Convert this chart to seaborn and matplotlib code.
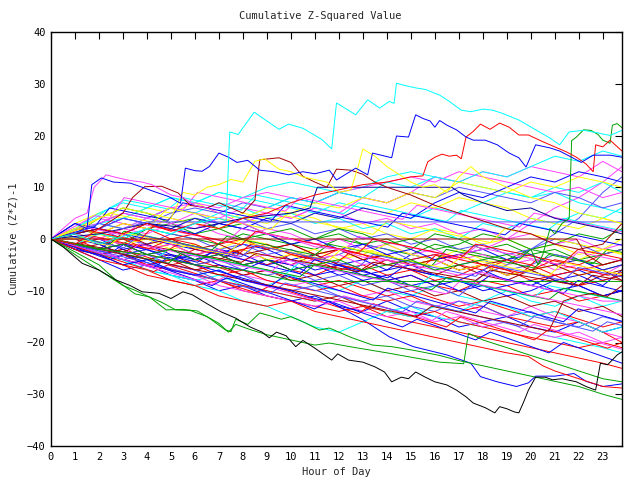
import matplotlib
matplotlib.use("Agg")
import matplotlib.pyplot as plt
import numpy as np
import pandas as pd
import seaborn as sns

# ---------------- data ----------------
HOURS = [0, 1, 2, 3, 4, 5, 6, 7, 8, 9, 10, 11, 12, 13, 14, 15, 16, 17, 18, 19, 20, 21, 22, 23, 23.8]
T_END = 23.8  # last sample time (hours)

# background series, one value per hour (HOURS grid)
L01 = [0, -1.5, -3, -2, -3.5, -5, -4, -5.5, -7, -6, -7.5, -9, -8, -9.5, -11, -10, -11.5, -13, -12, -13.5, -15, -14, -15.5, -17, -16]
L02 = [0, 1, 0, -1, 2, 1, 0, -1, 1, 0, -1, -2, 0, -1, -2, -3, -1, -2, -3, -4, -2, -3, -4, -5, -4]
L03 = [0, -1, -2, 1, 0, -1, -2, -3, -1, -2, -4, -3, -5, -4, -6, -3, -4, -6, -5, -7, -6, -8, -7, -9, -6]
L04 = [0, 2, 4, 3, 2, 4, 3, 1, 0, 2, 1, -1, 0, -2, -1, -3, -2, -4, -3, -5, -4, -6, -5, -7, -5]
L05 = [0, -2, -3, -5, -4, -6, -7, -6, -8, -9, -7, -9, -10, -8, -10, -11, -9, -11, -12, -10, -12, -13, -11, -13, -12]
L06 = [0, 3, 5, 4, 6, 5, 7, 5, 4, 3, 5, 4, 2, 3, 1, 0, 2, 1, -1, 0, -2, -1, -3, -2, 0]
L07 = [0, -1, -3, -2, -4, -3, -5, -4, -2, -4, -5, -3, -5, -6, -4, -6, -7, -5, -7, -8, -6, -8, -9, -7, -6]
L08 = [0, 1, 2, 0, -1, 1, 0, -2, -1, -3, -2, -4, -3, -1, -2, -4, -3, -5, -4, -6, -5, -3, -4, -6, -5]
L09 = [0, -2, -4, -6, -5, -7, -8, -10, -9, -11, -12, -11, -13, -14, -12, -14, -15, -17, -16, -15, -17, -18, -16, -18, -17]
L10 = [0, 2, 1, 3, 2, 0, 1, -1, 0, -2, -1, -3, -2, -4, -3, -5, -4, -6, -5, -7, -6, -4, -5, -3, -2]
L11 = [0, 0, -2, -1, -3, -4, -2, -3, -5, -4, -6, -7, -5, -6, -8, -7, -9, -10, -8, -9, -11, -10, -12, -11, -10]
L12 = [0, 1, 4, 6, 5, 3, 4, 2, 3, 1, 2, 0, 1, -1, 0, -2, 1, 0, -2, -1, -3, -2, -4, -3, -2]
L13 = [0, -1, 0, -2, -1, -3, -4, -2, -3, -5, -4, -6, -5, -7, -6, -5, -7, -8, -6, -8, -9, -7, -6, -8, -7]
L14 = [0, -1, -2, -4, -3, -5, -6, -5, -7, -8, -9, -8, -10, -11, -10, -12, -13, -12, -14, -15, -13, -15, -16, -18, -19]
L15 = [0, 2, 3, 2, 4, 6, 5, 7, 6, 4, 5, 3, 4, 2, 3, 1, 2, 0, 3, 2, 4, 3, 5, 4, 6]
L16 = [0, -1, 1, 0, -2, -1, -3, -2, 0, -1, -3, -2, -4, -3, -1, -3, -4, -2, -4, -5, -3, -5, -4, -2, -3]
L17 = [0, -2, -1, -3, -5, -4, -6, -5, -7, -6, -8, -7, -9, -8, -10, -9, -11, -10, -12, -11, -13, -12, -14, -13, -15]
L18 = [0, 1, 3, 5, 4, 6, 5, 3, 4, 2, 3, 1, 2, 0, 1, -1, 0, -2, -1, -3, -2, 0, -1, -3, -2]
L19 = [0, 0, -1, -3, -2, -4, -3, -5, -6, -4, -5, -7, -6, -8, -7, -9, -8, -10, -9, -11, -10, -8, -9, -11, -10]
L20 = [0, 1, -1, 0, -2, -1, -3, -2, -4, -5, -3, -4, -6, -5, -7, -6, -8, -7, -5, -6, -8, -7, -9, -8, -7]
L21 = [0, -1, -2, -3, -5, -4, -5, -7, -6, -8, -9, -10, -9, -11, -12, -11, -13, -14, -13, -15, -16, -17, -16, -18, -20]
L22 = [0, 2, 1, 0, 2, 3, 1, 2, 0, 1, -1, 0, 2, 1, -1, 0, -2, -1, 1, 0, -2, -1, 1, 0, 2]
L23 = [0, -1, -2, -1, -3, -2, -4, -3, -5, -4, -6, -5, -7, -6, -8, -7, -9, -8, -10, -9, -8, -10, -9, -11, -10]
L24 = [0, 1, 0, 2, 4, 3, 5, 4, 6, 5, 4, 6, 5, 3, 4, 2, 3, 1, 2, 0, 1, -1, 0, -2, -1]
L25 = [0, -2, -3, -4, -6, -7, -8, -7, -9, -10, -11, -12, -11, -13, -14, -13, -15, -16, -17, -16, -18, -19, -20, -21, -22]
L26 = [0, 0, 1, -1, 0, -2, -1, -3, -2, -4, -3, -5, -4, -2, -3, -5, -4, -6, -5, -7, -6, -5, -7, -6, -5]
L27 = [0, 1, 2, 1, -1, 0, -2, -1, -3, -2, -1, -3, -2, -4, -3, -5, -4, -3, -5, -4, -6, -5, -7, -6, -8]
L28 = [0, -1, -3, -4, -3, -5, -6, -8, -7, -9, -10, -9, -11, -12, -11, -13, -14, -12, -13, -15, -14, -16, -17, -15, -16]
L29 = [0, 3, 2, 4, 3, 2, 1, 3, 2, 1, -1, 0, -2, -1, -3, -2, -4, -3, -2, -4, -3, -5, -4, -6, -5]
L30 = [0, -1, 0, -1, -2, 0, -1, -3, -2, -1, -3, -4, -2, -3, -5, -4, -3, -5, -6, -4, -5, -7, -6, -5, -4]
L31 = [0, 1, 0, -1, -2, -1, -3, -2, -4, -3, -5, -4, -3, -5, -4, -6, -5, -3, -2, 0, 3, 6, 8, 11, 14]
L32 = [0, -1, -2, -3, -2, -4, -5, -4, -6, -7, -6, -8, -7, -9, -8, -10, -9, -11, -7, -5, -2, 1, 4, 9, 12]
L33 = [0, 2, 5, 7, 6, 8, 7, 9, 8, 7, 6, 5, 7, 6, 5, 4, 6, 5, 7, 9, 8, 10, 9, 11, 9]
L34 = [0, 1, 3, 4, 6, 8, 7, 9, 8, 10, 11, 10, 9, 10, 12, 13, 12, 11, 10, 9, 8, 9, 7, 6, 5]
L35 = [0, 2, 3, 5, 4, 6, 7, 6, 8, 9, 8, 7, 9, 10, 11, 12, 11, 13, 12, 11, 10, 9, 10, 8, 9]
L36 = [0, 1, 2, 4, 3, 5, 6, 5, 7, 6, 8, 7, 9, 8, 7, 9, 8, 10, 9, 8, 7, 9, 8, 6, 7]
L37 = [0, 1, 0, 2, 3, 2, 4, 3, 5, 4, 3, 5, 4, 6, 5, 7, 6, 8, 7, 6, 4, 3, 2, 4, 3]
L38 = [0, -1, -3, -4, -5, -6, -7, -8, -9, -10, -11, -12, -11, -13, -14, -15, -14, -16, -17, -18, -19, -20, -21, -20, -21]
L39 = [0, -2, -3, -5, -6, -8, -9, -8, -10, -11, -12, -13, -14, -13, -15, -16, -17, -18, -19, -20, -21, -22, -23, -24, -25]
L40 = [0, -1, -2, -4, -5, -6, -7, -9, -10, -11, -12, -13, -12, -14, -15, -14, -16, -15, -17, -16, -18, -19, -18, -20, -19]
L41 = [0, -1, -3, -4, -6, -7, -9, -10, -12, -13, -15, -17, -18, -16, -14, -15, -13, -14, -12, -13, -15, -14, -16, -18, -17]
R01 = [0, 1, 0, 2, 1, 3, 2, 4, 3, 5, 4, 6, 5, 8, 7, 9, 12, 11, 13, 12, 14, 13, 12, 15, 13]
R02 = [0, -1, 1, 0, 2, 1, 3, 5, 4, 6, 8, 7, 9, 8, 11, 10, 12, 11, 13, 12, 14, 16, 15, 17, 16]
R03 = [0, 2, 1, 3, 2, 4, 3, 2, 4, 6, 5, 7, 6, 8, 7, 9, 8, 11, 10, 9, 11, 10, 12, 11, 10]
R04 = [0, 1, 2, 1, 3, 2, 4, 3, 2, 4, 3, 5, 4, 6, 5, 4, 7, 9, 8, 10, 12, 11, 13, 12, 11]

# finer background series, evenly spaced samples from 0 to T_END
N01 = [0, -0.6, -1.2, 0.5, -0.1, -0.7, -1.3, -1.9, -2.5, -0.8, -1.4, -2, -2.6, -3.2, -1, -1.6, -2.2, -2.8, -3.4, -4, -4.6, -2.5, -3.1, -3.7, -4.3, -4.9, -5.5, -3, -3.6, -4.2, -4.8, -5.4, -6, -6.6, -4, -4.6, -5.2, -5.8, -6.4, -7, -6.5]
N02 = [0, -0.7, -1.4, -2.1, -2.8, -1, -1.7, -2.4, -3.1, -3.8, -4.5, -2.5, -3.2, -3.9, -4.6, -5.3, -6, -6.7, -4, -4.7, -5.4, -6.1, -6.8, -7.5, -5.5, -6.2, -6.9, -7.6, -8.3, -9, -7, -7.7, -8.4, -9.1, -9.8, -10.5, -8, -8.7, -9.4, -10.1]
N03 = [0, 0.8, 0.2, -0.4, -1, 1.5, 0.9, 0.3, -0.3, -0.9, -1.5, -2.1, 0.5, -0.1, -0.7, -1.3, -1.9, -2.5, -3.1, -1, -1.6, -2.2, -2.8, -3.4, -4, -4.6, -5.2, -2, -2.6, -3.2, -3.8, -4.4, -5, -5.6, -3, -3.6, -4.2, -4.8, -2, -2.6]
N04 = [0, 1, 2.5, 1.9, 1.3, 0.7, 3, 2.4, 1.8, 1.2, 0.6, 0, -0.6, 2, 1.4, 0.8, 0.2, -0.4, -1, -1.6, -2.2, 0.5, -0.1, -0.7, -1.3, -1.9, -2.5, -3.1, -3.7, -1.5, -2.1, -2.7, -3.3, -3.9, -4.5, -5.1, -2.5, -3.1, -3.7, -4.3]
N05 = [0, -0.6, -1.2, -1.8, -2.4, -3, -3.6, -4.2, -2, -2.6, -3.2, -3.8, -4.4, -5, -5.6, -6.2, -6.8, -4.5, -5.1, -5.7, -6.3, -6.9, -7.5, -8.1, -8.7, -9.3, -7, -7.6, -8.2, -8.8, -9.4, -10, -10.6, -11.2, -9, -9.6, -10.2, -10.8, -11.4, -12]
N06 = [0, 0.5, -0.1, -0.7, -1.3, 1.2, 0.6, 0, -0.6, -1.2, -1.8, -2.4, -3, -0.5, -1.1, -1.7, -2.3, -2.9, -3.5, -4.1, -1.5, -2.1, -2.7, -3.3, -3.9, -4.5, -5.1, -5.7, -3.5, -4.1, -4.7, -5.3, -5.9, -6.5, -7.1, -4.5, -5.1, -5.7, -6.3, -6.9]
N07 = [0, -0.5, -1, -1.5, -2, -2.5, -1, -1.5, -2, -2.5, -3, -3.5, -4, -4.5, -2.8, -3.3, -3.8, -4.3, -4.8, -5.3, -5.8, -6.3, -4.5, -5, -5.5, -6, -6.5, -7, -7.5, -8, -6, -6.5, -7, -7.5, -8, -8.5, -9, -7, -7.5, -8]
N08 = [0, 0.7, 0.1, -0.5, -1.1, -1.7, 0.8, 0.2, -0.4, -1, -1.6, -2.2, -2.8, -3.4, -1.2, -1.8, -2.4, -3, -3.6, -4.2, -4.8, -5.4, -3, -3.6, -4.2, -4.8, -5.4, -6, -6.6, -7.2, -5, -5.6, -6.2, -6.8, -7.4, -8, -5.5, -6.1, -6.7, -7.3]
N09 = [0, -0.8, -1.6, -2.4, -3.2, -4, -4.8, -5.6, -3.5, -4.3, -5.1, -5.9, -6.7, -7.5, -8.3, -9.1, -7, -7.8, -8.6, -9.4, -10.2, -11, -11.8, -9.5, -10.3, -11.1, -11.9, -12.7, -13.5, -14.3, -12, -12.8, -13.6, -14.4, -15.2, -16, -13.5, -14.3, -15.1, -15.9]
N10 = [0, 0.9, 2, 1.4, 0.8, 0.2, -0.4, 2.5, 1.9, 1.3, 0.7, 0.1, -0.5, -1.1, 1.5, 0.9, 0.3, -0.3, -0.9, -1.5, -2.1, -2.7, 0, -0.6, -1.2, -1.8, -2.4, -3, -3.6, -1, -1.6, -2.2, -2.8, -3.4, -4, -4.6, -2, -2.6, -3.2, -3.8]
N11 = [0, -0.5, -1.1, -1.7, -2.3, -2.9, -3.5, -4.1, -4.7, -2.5, -3.1, -3.7, -4.3, -4.9, -5.5, -6.1, -6.7, -7.3, -5, -5.6, -6.2, -6.8, -7.4, -8, -8.6, -9.2, -9.8, -7.5, -8.1, -8.7, -9.3, -9.9, -10.5, -11.1, -11.7, -9.5, -10.1, -10.7, -11.3, -11.9]
N12 = [0, -0.6, -1.2, -1.8, -2.4, -3, -1, -1.6, -2.2, -2.8, -3.4, -4, -4.6, -5.2, -5.8, -6.4, -4, -4.6, -5.2, -5.8, -6.4, -7, -7.6, -8.2, -8.8, -9.4, -10, -10.6, -8, -8.6, -9.2, -9.8, -10.4, -11, -11.6, -12.2, -12.8, -13.4, -14, -14.6]
U1 = [0, 1, 2.5, 4, 6, 7.5, 7, 6.4, 5.8, 8, 7.4, 6.8, 6.2, 5.6, 8.5, 7.9, 7.3, 6.7, 6.1, 5.5, 4.9, 7, 6.4, 5.8, 5.2, 4.6, 4, 3.4, 5.5, 4.9, 4.3, 3.7, 3.1, 2.5, 1.9, 4, 3.4, 2.8, 2.2, 1.6]
U2 = [0, 0.8, 1.6, 2.4, 6, 5.4, 4.8, 4.2, 3.6, 7, 6.4, 5.8, 5.2, 4.6, 4, 3.4, 6.5, 5.9, 5.3, 4.7, 4.1, 3.5, 2.9, 2.3, 5, 4.4, 3.8, 3.2, 2.6, 2, 1.4, 0.8, 3, 2.4, 1.8, 1.2, 0.6, 0, -0.6, -1.2]
U3 = [0, 1.5, 3, 4.5, 4, 8, 7.4, 6.8, 6.2, 5.6, 9, 8.4, 7.8, 7.2, 6.6, 6, 5.4, 8, 7.4, 6.8, 6.2, 5.6, 5, 4.4, 3.8, 6.5, 5.9, 5.3, 4.7, 4.1, 3.5, 2.9, 2.3, 5, 4.4, 3.8, 3.2, 2.6, 2, 1.4]
U4 = [0, 1, 2, 3.5, 5, 4.4, 3.8, 3.2, 6, 5.4, 4.8, 4.2, 3.6, 3, 2.4, 1.8, 4.5, 3.9, 3.3, 2.7, 2.1, 1.5, 0.9, 3.5, 2.9, 2.3, 1.7, 1.1, 0.5, -0.1, -0.7, 2, 1.4, 0.8, 0.2, -0.4, -1, -1.6, -2.2, -2.8]
D1 = [0, -0.9, -1.8, -2.7, -3.6, -4.5, -5.4, -6.3, -5, -5.9, -6.8, -7.7, -8.6, -9.5, -10.4, -9, -9.9, -10.8, -11.7, -12.6, -13.5, -14.4, -12.5, -13.4, -14.3, -15.2, -16.1, -17, -15, -15.9, -16.8, -17.7, -18.6, -19.5, -17.5, -18.4, -19.3, -20.2, -21.1, -20]
D2 = [0, -1, -2, -3, -4, -3, -4, -5, -6, -7, -8, -9, -7.5, -8.5, -9.5, -10.5, -11.5, -12.5, -13.5, -12, -13, -14, -15, -16, -17, -15.5, -16.5, -17.5, -18.5, -19.5, -18, -19, -20, -21, -22, -20, -21, -22, -23, -24]
D3 = [0, -0.8, -1.6, -2.4, -3.2, -4, -4.8, -5.6, -6.4, -7.2, -8, -8.8, -7, -7.8, -8.6, -9.4, -10.2, -11, -11.8, -12.6, -11, -11.8, -12.6, -13.4, -14.2, -15, -15.8, -14, -14.8, -15.6, -16.4, -17.2, -18, -16.5, -17.3, -18.1, -18.9, -19.7, -20.5, -21.3]
D4 = [0, -0.7, -1.4, -2.1, -2.8, -3.5, -4.2, -4.9, -5.6, -6.3, -7, -7.7, -8.4, -9.1, -9.8, -10.5, -8.5, -9.2, -9.9, -10.6, -11.3, -12, -12.7, -13.4, -14.1, -12, -12.7, -13.4, -14.1, -14.8, -15.5, -16.2, -16.9, -15, -15.7, -16.4, -17.1, -17.8, -16, -16.7]
D5 = [0, -0.6, -1.2, -1.8, -2.4, -3, -3.6, -4.2, -4.8, -5.4, -6, -6.6, -7.2, -7.8, -8.4, -9, -9.6, -10.2, -10.8, -11.4, -12, -12.6, -13.2, -13.8, -14.4, -15, -13, -13.6, -14.2, -14.8, -15.4, -16, -16.6, -17.2, -17.8, -12, -11, -10.5, -11.1, -9]

# traced prominent series (hour, value)
CYAN_TOP_X = [0, 1, 2, 3, 4, 5, 6, 7, 7.3, 7.45, 7.8, 8.47, 9.5, 9.9, 10.5, 11.3, 11.7, 11.9, 12.7, 13.2, 13.7, 14.1, 14.3, 14.4, 14.8, 15.2, 15.6, 16.2, 16.6, 17.1, 17.5, 18.0, 18.4, 18.8, 19.5, 20.2, 20.8, 21.2, 21.6, 22.2, 22.8, 23.3, 23.8]
CYAN_TOP_Y = [0, 1, -1, 0.5, 2, 1, 3, 4, 3.5, 20.7, 20.2, 24.5, 21.2, 22.2, 21.4, 19.2, 17.4, 26.3, 24, 26.9, 25.3, 26.6, 26.2, 30.1, 29.6, 29.2, 28.9, 27.8, 26.6, 24.9, 24.6, 25.1, 24.9, 24.3, 23, 21.1, 19.5, 18.2, 20.7, 21, 20.5, 20, 21]

BLUE_TOP_X = [0, 0.5, 1, 1.5, 1.7, 2.1, 2.6, 3.3, 3.8, 4.4, 4.9, 5.4, 5.6, 6.0, 6.3, 6.6, 7.0, 7.4, 7.75, 8.2, 8.7, 9.3, 9.9, 10.5, 11.0, 11.6, 11.9, 12.7, 13.2, 13.4, 14.2, 14.4, 14.9, 15.2, 15.5, 15.8, 16.0, 16.2, 16.5, 16.9, 17.3, 17.6, 18.1, 18.6, 19.1, 19.5, 19.8, 20.2, 20.8, 21.2, 21.7, 22.1, 22.6, 23.3, 23.8]
BLUE_TOP_Y = [0, 1.5, 3, 2, 10.5, 11.8, 11, 10.8, 10, 9, 8.2, 6.9, 13.7, 13.2, 13.1, 14, 16.6, 15.8, 14.8, 15.2, 13.3, 13.0, 12.4, 13.0, 12.6, 13.3, 11.4, 13.7, 12.4, 16.6, 15.7, 19.9, 19.7, 24, 23.3, 22.8, 21.6, 22.9, 22, 21.1, 19.7, 19.1, 19.1, 18.2, 16.6, 15.7, 13.9, 18.2, 17.6, 17, 15.8, 14.8, 16.2, 16.2, 15.8]

RED_TOP_X = [0, 1, 2, 3, 4, 5, 6, 7, 8, 9, 10, 11, 12, 13, 14, 15, 15.5, 15.7, 16.0, 16.3, 16.6, 16.9, 17.1, 17.3, 17.6, 17.9, 18.3, 18.7, 19.1, 19.5, 19.9, 20.5, 21.0, 21.5, 21.9, 22.3, 22.6, 22.7, 23.0, 23.3, 23.8]
RED_TOP_Y = [0, -1, 2, 1, 3, 1.5, 3, 2, 4, 5, 7, 8.5, 9.5, 10.5, 11, 12, 12.2, 14.9, 15.8, 16.4, 16, 16.2, 15.5, 19.7, 20.8, 22.2, 21.2, 22.4, 21.6, 20.1, 20.1, 18.8, 17.8, 16.8, 15.8, 14.5, 13, 18.2, 17.8, 19.1, 17]

GREEN_RIGHT_X = [0, 1, 2, 3, 4, 5, 6, 7, 8, 9, 10, 11, 12, 13, 14, 15, 16, 17, 18, 19, 19.5, 20.0, 20.3, 20.5, 20.8, 21.0, 21.3, 21.6, 21.7, 21.9, 22.2, 22.5, 22.8, 23.0, 23.3, 23.4, 23.6, 23.8]
GREEN_RIGHT_Y = [0, -1, -2, -1, -3, -2, -4, -3, -5, -4, -6, -5, -4, -6, -5, -4, -6, -5, -4, -3, -4, -2, -5, -3, 2, 1, 3, 4, 19, 19.7, 21.1, 21, 20.2, 19.1, 18.5, 22, 22.3, 21.5]

BLACK_X = [0, 0.5, 1.3, 2.0, 2.7, 3.3, 3.8, 4.5, 5.0, 5.5, 5.9, 6.5, 7.1, 7.7, 8.3, 8.8, 9.1, 9.4, 9.8, 10.2, 10.5, 11.0, 11.7, 11.95, 12.4, 13.0, 13.5, 13.9, 14.2, 14.6, 14.9, 15.2, 15.6, 16.0, 16.5, 16.9, 17.3, 17.6, 18.1, 18.5, 18.7, 19.0, 19.3, 19.5, 19.7, 19.9, 20.2, 20.6, 20.9, 21.3, 21.9, 22.3, 22.7, 22.9, 23.2, 23.6, 23.8]
BLACK_Y = [0, -1.5, -4.7, -6, -7.9, -9, -10.2, -10.5, -11.5, -10.2, -10.8, -12.5, -14.1, -15.3, -17, -18, -19.1, -18, -18.7, -20.8, -19.6, -21.1, -23.4, -22.2, -23.4, -23.8, -24.7, -25.7, -27.6, -26.7, -27, -25.7, -26.7, -27.6, -28.2, -29.2, -30.5, -31.7, -32.6, -33.6, -32.4, -32.8, -33.4, -33.6, -31.5, -29.2, -26.7, -26.7, -27.2, -27, -27.6, -28.5, -29.2, -24, -24.3, -22.4, -21.8]

GREEN_A_X = [0, 1, 2, 3, 3.5, 4, 4.6, 5.2, 5.8, 6.5, 7.0, 7.3, 7.5, 7.7, 8.2, 8.7, 9.1, 9.6, 10, 10.5, 11.2, 11.6, 12.5, 13.4, 14.2, 15.1, 16.2, 17, 18, 19, 20, 21, 22, 23, 23.8]
GREEN_A_Y = [0, -3, -6, -9, -9.9, -11, -12.2, -13.7, -13.8, -15, -16.3, -17.6, -17.9, -15.5, -16.5, -14.3, -14.8, -15.5, -15, -16, -17.6, -17.2, -19, -20.5, -20.8, -21.5, -22.5, -23.5, -24.5, -25.5, -26.5, -27.5, -28.5, -30, -31]

GREEN_B_X = [0, 1, 2, 2.7, 3.5, 4.1, 4.8, 5.5, 6.1, 6.6, 7.1, 7.4, 7.7, 8.3, 9, 10, 11, 11.6, 12.7, 14, 15.2, 16.2, 17.2, 17.4, 18, 19, 20, 21, 22, 23, 23.8]
GREEN_B_Y = [0, -2.5, -5, -7.9, -10.6, -11.2, -13.7, -13.6, -13.9, -15.3, -17, -18, -16.5, -17.5, -18.5, -19.5, -20.5, -20.1, -21, -22, -23, -23.8, -24.1, -18.2, -19.5, -21, -22.5, -24, -25.5, -27, -27.6]

BLUE_LOW_X = [0, 1, 2, 3, 4, 5, 6, 7, 8, 9, 10, 11, 11.6, 13, 14.1, 15.1, 16.5, 17.5, 17.9, 18.6, 19.4, 19.9, 20.2, 21.0, 21.8, 22.3, 23, 23.8]
BLUE_LOW_Y = [0, -2, -3, -5, -4, -6, -7, -6, -8, -9, -10, -11.5, -12.1, -15.6, -18.9, -20.8, -22.4, -24, -26.6, -27.6, -28.5, -27.8, -26.5, -26.5, -26, -27.5, -28.5, -28]

RED_LOW_X = [0, 1, 2, 3, 4, 5, 6, 7, 8, 9, 10, 11, 12, 13, 14, 15, 16, 17, 18, 19, 19.9, 20.5, 21, 22, 23, 23.8]
RED_LOW_Y = [0, -2, -4, -5, -7, -8, -9, -11, -12, -13, -12, -14, -15, -16, -17, -18, -19, -20, -21, -22, -22.7, -24.5, -25.5, -27, -28.5, -28.8]

DARKRED_X = [0, 2, 3, 3.4, 3.9, 4.6, 5.3, 5.8, 6.5, 7, 7.5, 8, 8.5, 8.7, 9.5, 10, 10.5, 11, 11.5, 11.9, 12.5, 13, 13.5, 14, 15, 16, 17, 18, 19, 20, 21, 22, 23, 23.8]
DARKRED_Y = [0, 2, 5, 8, 10.1, 10.2, 8.9, 6.5, 6, 7, 6, 5, 7.5, 15.3, 15.7, 14.8, 12.1, 11, 10, 13.5, 13.3, 12.5, 11, 10, 8.5, 6.5, 5, 3.5, 2, 1, -1, -2, -1, 3]

YELLOW_X = [0, 1, 2, 3, 4, 5, 5.5, 6, 6.5, 7, 7.5, 8, 8.5, 8.9, 9.5, 10, 10.5, 11, 11.5, 12, 12.5, 12.8, 13.0, 13.5, 14, 14.5, 15, 15.5, 16, 16.5, 17, 17.5, 18, 18.5, 19, 19.5, 20, 21, 22, 23, 23.8]
YELLOW_Y = [0, 2, 4, 6, 5, 4, 9, 8.5, 10, 10.5, 11.5, 11, 15, 15.5, 13.5, 13, 12, 11.5, 11, 9, 9.5, 14, 17.4, 16, 14, 12.5, 11, 10, 10.5, 9, 12, 14, 12, 11, 10, 9, 8, 7, 5, 4, 3]

MAGENTA_X = [0, 0.5, 1, 1.5, 1.8, 2.3, 2.8, 3.3, 3.8, 4.2, 4.6, 5, 5.5, 6, 6.5, 7, 7.5, 8, 9, 10, 11, 12, 13, 14, 15, 16, 17, 18, 19, 20, 21, 22, 23, 23.8]
MAGENTA_Y = [0, 2, 4, 5, 10, 12.4, 11.8, 11.3, 11.0, 10.5, 9.5, 8.5, 8.0, 6.5, 6, 5, 4, 3, 1, 0, -1.5, -2, -3.5, -4, -5, -6, -7, -6.5, -8, -9, -10, -11, -12, -12]

# flat (gap-filled) series
NAVY_X = [0, 2, 4, 6, 8, 10, 10.8, 11.1, 16.7, 17.2, 18, 19, 20, 21, 22, 23, 23.8]
NAVY_Y = [0, 1, 3, 2, 4, 5, 6, 10, 10, 8.5, 7, 5.5, 6, 4, 3, 2, 1]
LBLUE_FLAT_X = [0, 1, 2, 3, 4, 23.8]
LBLUE_FLAT_Y = [0, 1, 3, 2, 3.3, 3.3]
DARKRED_FLAT_X = [0, 21.9, 22.3, 23, 23.8]
DARKRED_FLAT_Y = [0, 0, -3, -5, -4]
GREEN_FLAT_X = [0, 2, 4, 6, 8, 10, 10.5, 23.8]
GREEN_FLAT_Y = [0, -2, -3, -5, -6, -8, -8.2, -8.2]

# ---------------- colours / assembly ----------------
RED, GREEN, BLUE, MAG, CYAN = "#ff0000", "#00a000", "#0000ff", "#ff40ff", "#00ffff"
YEL, DRED, LBLUE, NAVY, BLACK = "#ffff00", "#a00000", "#5050ff", "#000090", "#000000"
cycle = [RED, GREEN, BLUE, MAG, CYAN, YEL, DRED, LBLUE, BLUE, RED]

background = [L01, L02, L03, L04, L05, L06, L07, L08, L09, L10, L11, L12, L13, L14,
              L15, L16, L17, L18, L19, L20, L21, L22, L23, L24, L25, L26, L27, L28,
              L29, L30, L31, L32, L33, L34, L35, L36, L37, L38, L39, L40, L41,
              R01, R02, R03, R04]
bg_colors = [cycle[i % len(cycle)] for i in range(len(background))]
bg_colors[30], bg_colors[31], bg_colors[32] = MAG, LBLUE, CYAN
bg_colors[33], bg_colors[34], bg_colors[35], bg_colors[36] = CYAN, MAG, LBLUE, YEL
bg_colors[37], bg_colors[38], bg_colors[39], bg_colors[40] = RED, RED, MAG, CYAN
bg_colors[41], bg_colors[42], bg_colors[43], bg_colors[44] = MAG, CYAN, YEL, BLUE

fine = [N01, N02, N03, N04, N05, N06, N07, N08, N09, N10, N11, N12,
        U1, U2, U3, U4, D1, D2, D3, D4, D5]
fine_colors = [RED, BLUE, GREEN, MAG, CYAN, YEL, DRED, LBLUE, BLUE, RED, GREEN, MAG,
               CYAN, BLUE, MAG, YEL, RED, BLUE, MAG, LBLUE, DRED]

series = []
for i, ys in enumerate(background):
    series.append((f"b{i}", HOURS, ys, bg_colors[i]))
for i, ys in enumerate(fine):
    series.append((f"n{i}", list(np.linspace(0, T_END, len(ys))), ys, fine_colors[i]))
series += [
    ("navy", NAVY_X, NAVY_Y, NAVY),
    ("lblue_flat", LBLUE_FLAT_X, LBLUE_FLAT_Y, LBLUE),
    ("dred_flat", DARKRED_FLAT_X, DARKRED_FLAT_Y, DRED),
    ("green_flat", GREEN_FLAT_X, GREEN_FLAT_Y, GREEN),
    ("dred", DARKRED_X, DARKRED_Y, DRED),
    ("yellow", YELLOW_X, YELLOW_Y, YEL),
    ("magenta", MAGENTA_X, MAGENTA_Y, MAG),
    ("blue_low", BLUE_LOW_X, BLUE_LOW_Y, BLUE),
    ("red_low", RED_LOW_X, RED_LOW_Y, RED),
    ("green_a", GREEN_A_X, GREEN_A_Y, GREEN),
    ("green_b", GREEN_B_X, GREEN_B_Y, GREEN),
    ("green_right", GREEN_RIGHT_X, GREEN_RIGHT_Y, GREEN),
    ("red_top", RED_TOP_X, RED_TOP_Y, RED),
    ("blue_top", BLUE_TOP_X, BLUE_TOP_Y, BLUE),
    ("cyan_top", CYAN_TOP_X, CYAN_TOP_Y, CYAN),
    ("black", BLACK_X, BLACK_Y, BLACK),
]

rows = []
for name, xs, ys, col in series:
    for k, (x, y) in enumerate(zip(xs, ys)):
        rows.append({"id": name, "hour": x, "value": y, "k": k})
df = pd.DataFrame(rows)
palette = {name: col for name, _, _, col in series}

# ---------------- plot ----------------
sns.set_style("white")
plt.rcParams["font.family"] = ["DejaVu Sans Mono"]

fig = plt.figure(figsize=(6.4, 4.8), dpi=100)
ax = fig.add_axes([51 / 640, 34 / 480, 571 / 640, 414 / 480])

sns.lineplot(data=df, x="hour", y="value", hue="id", units="id", estimator=None,
             sort=False, palette=palette, legend=False, linewidth=0.7, ax=ax,
             hue_order=[s[0] for s in series])
for ln in ax.get_lines():
    ln.set_linewidth(0.7)
    ln.set_solid_joinstyle("miter")

ax.set_xlim(0, T_END)
ax.set_ylim(-40, 40)
ax.set_xticks(range(0, 24))
ax.set_yticks(range(-40, 41, 10))
ax.tick_params(direction="in", length=5, width=0.8, top=True, right=True,
               labelsize=7.5, colors="black", pad=4)
for sp in ax.spines.values():
    sp.set_color("black")
    sp.set_linewidth(1.0)
ax.set_xlabel("Hour of Day", fontsize=7.5, labelpad=4)
ax.set_ylabel("Cumulative (Z*Z)-1", fontsize=7.5, labelpad=6)
fig.text(0.5, 1 - 16 / 480, "Cumulative Z-Squared Value", ha="center", va="center", fontsize=7.5)

fig.savefig("out.png", dpi=100)
